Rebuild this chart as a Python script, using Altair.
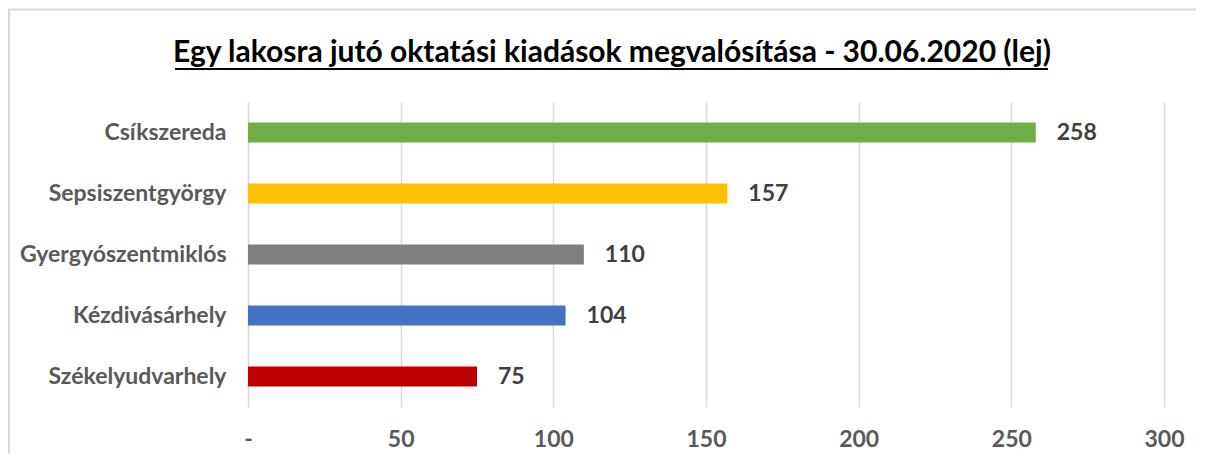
import altair as alt
import pandas as pd

cities = ["Csíkszereda", "Sepsiszentgyörgy", "Gyergyószentmiklós", "Kézdivásárhely", "Székelyudvarhely"]
values = [258, 157, 110, 104, 75]
colors = ["#70AD47", "#FFC000", "#7F7F7F", "#4472C4", "#C00000"]
x_ticks = [0, 50, 100, 150, 200, 250, 300]
title_text = "Egy lakosra jutó oktatási kiadások megvalósítása - 30.06.2020 (lej)"

df = pd.DataFrame({"city": cities, "value": values, "color": colors})
one = pd.DataFrame({"t": [title_text]})

FONT = "Lato"
W, H = 916, 305

y_enc = alt.Y(
    "city:N", sort=cities,
    scale=alt.Scale(paddingInner=0.67, paddingOuter=0.335),
    axis=alt.Axis(title=None, domain=False, ticks=False, labelFont=FONT,
                  labelFontWeight="bold", labelFontSize=23, labelColor="#595959",
                  labelPadding=22, labelLimit=0),
)
x_enc = alt.X(
    "value:Q",
    scale=alt.Scale(domain=[0, 300], nice=False, zero=True),
    axis=alt.Axis(values=x_ticks, title=None, domain=False, ticks=False, grid=True,
                  gridColor="#D9D9D9", gridWidth=1.5,
                  labelExpr="datum.value == 0 ? '-' : datum.label",
                  labelFlush=False, labelOverlap=False,
                  labelBaseline="alphabetic",
                  labelFont=FONT, labelFontWeight="bold", labelFontSize=23,
                  labelColor="#595959", labelPadding=39),
)

base = alt.Chart(df)
bars = base.mark_bar().encode(
    x=x_enc, y=y_enc, color=alt.Color("color:N", scale=None)
)
labels = base.mark_text(align="left", baseline="middle", dx=21, font=FONT,
                        fontWeight="bold", fontSize=23, color="#404040").encode(
    x="value:Q", y=alt.Y("city:N", sort=cities), text="value:Q"
)

title = alt.Chart(one).mark_text(align="center", baseline="alphabetic", font=FONT,
                                 fontWeight="bold", fontSize=30, color="#000000").encode(
    text="t:N", x=alt.value(364), y=alt.value(-40)
)
underline = alt.Chart(one).mark_rule(color="#000000", strokeWidth=2).encode(
    x=alt.value(-73), x2=alt.value(800), y=alt.value(-33)
)
border_left = alt.Chart(one).mark_rule(color="#D9D9D9", strokeWidth=2).encode(
    x=alt.value(-239), y=alt.value(-93), y2=alt.value(420)
)
border_top = alt.Chart(one).mark_rule(color="#D9D9D9", strokeWidth=2).encode(
    x=alt.value(-240), x2=alt.value(1000), y=alt.value(-92.5)
)

chart = alt.layer(bars, labels, title, underline, border_left, border_top).properties(
    width=W, height=H,
    autosize=alt.AutoSizeParams(type="none"),
    padding={"left": 240, "top": 94, "right": 32, "bottom": 47},
).configure_view(stroke=None)

chart.save("out.html", embed_options={"renderer": "svg", "actions": False})
